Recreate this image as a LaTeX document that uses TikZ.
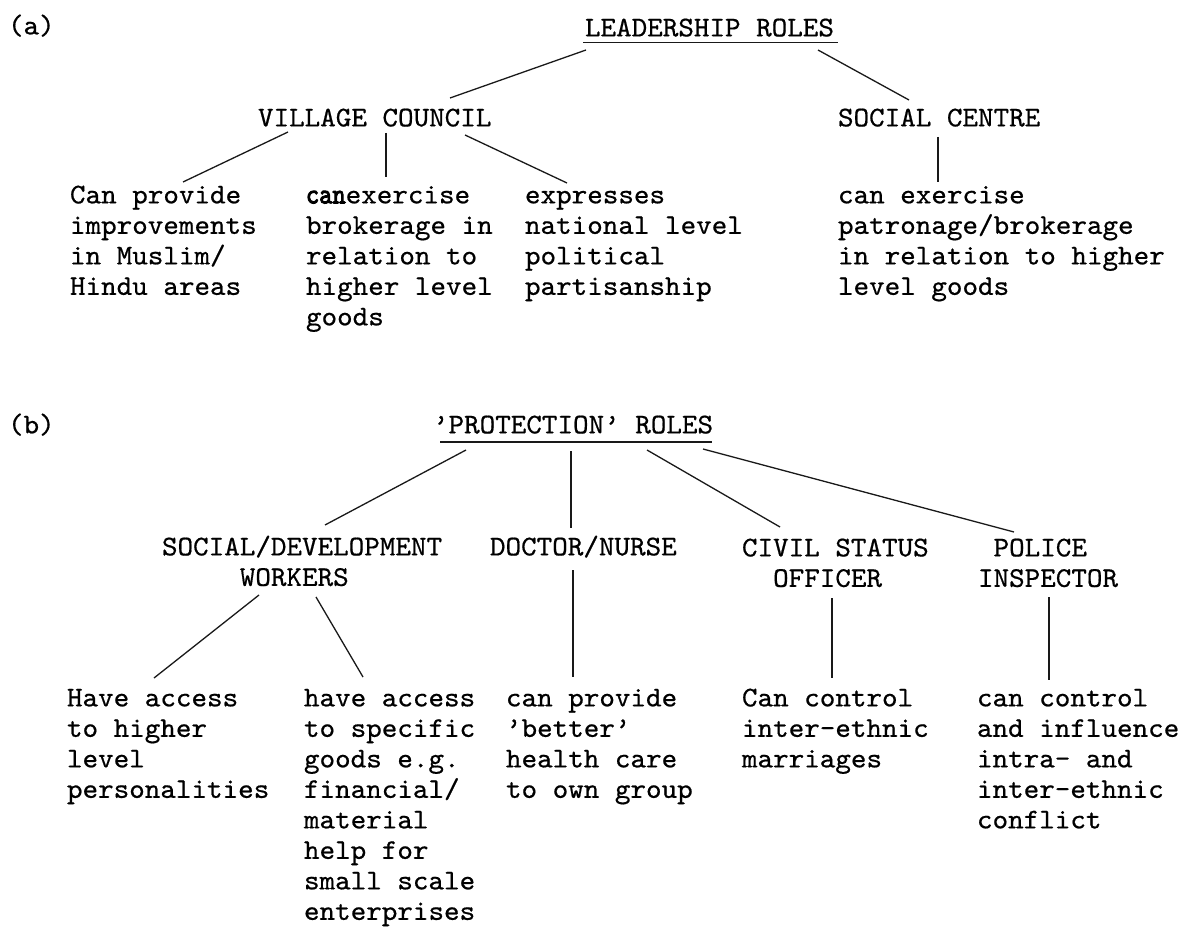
\documentclass[tikz,border=0pt]{standalone}
\usepackage{fontspec}
\usepackage{graphicx}
% typewriter face: Latin Modern Mono, slightly widened and emboldened
\newfontfamily\tw[FakeStretch=1.04,FakeBold=0.6]{lmmono10-regular.otf}
\newfontfamily\twb[FakeStretch=1.04,FakeBold=3.5]{lmmono10-regular.otf}
\tikzset{
  txt/.style={anchor=north west, inner sep=0pt, outer sep=0pt, align=left,
              font=\tw\fontsize{28.5}{30.5}\selectfont},
  link/.style={line width=1.3pt, draw=black!90},
  uline/.style={line width=1.6pt, draw=black!90}
}
\begin{document}
\begin{tikzpicture}[x=1pt,y=-1pt]
\useasboundingbox[fill=white] (0,0) rectangle (1181,928);

% ---------- (a) leadership roles ----------
\node[txt] (a)  at (8,13)    {\strut(a)};
\node[txt] (lr) at (585,15)  {\strut LEADERSHIP ROLES};
\node[txt] (vc) at (258,105) {\strut VILLAGE COUNCIL};
\node[txt] (sc) at (838,105) {\strut SOCIAL CENTRE};
\node[txt] (c1) at (70,182)  {\strut Can provide\\improvements\\in Muslim/\\Hindu areas};
\node[txt] (c2) at (306,182) {\strut\scalebox{0.85}[1]{\twb can}exercise\\brokerage in\\relation to\\higher level\\goods};
\node[txt] (c3) at (525,182) {\strut expresses\\national level\\political\\partisanship};
\node[txt] (c4) at (838,182) {\strut can exercise\\patronage/brokerage\\in relation to higher\\level goods};

\draw[uline] ([shift={(-2,27.5)}]lr.north west) -- ([shift={(253,27.5)}]lr.north west);

\draw[link] ([shift={(1,35)}]lr.north west)    -- ([shift={(192,-7)}]vc.north west);
\draw[link] ([shift={(233,35)}]lr.north west)  -- ([shift={(71,-5)}]sc.north west);
\draw[link] ([shift={(30,27)}]vc.north west)   -- ([shift={(113,0)}]c1.north west);
\draw[link] ([shift={(128,28)}]vc.north west)  -- ([shift={(80,-5)}]c2.north west);
\draw[link] ([shift={(207,30)}]vc.north west)  -- ([shift={(42,1)}]c3.north west);
\draw[link] ([shift={(100,32)}]sc.north west)  -- ([shift={(100,0)}]c4.north west);

% ---------- (b) protection roles ----------
\node[txt] (b)  at (8,412)   {\strut(b)};
\node[txt] (pr) at (433,412) {\strut’PROTECTION’ ROLES};
\node[txt] (sd) at (162,534) {\strut SOCIAL/DEVELOPMENT\\\phantom{XXXXX}WORKERS};
\node[txt] (dn) at (490,534) {\strut DOCTOR/NURSE};
\node[txt] (cs) at (742,535) {\strut CIVIL STATUS\\\phantom{XX}OFFICER};
\node[txt] (pi) at (978,535) {\strut\phantom{X}POLICE\\INSPECTOR};

\node[txt] (h1) at (67,685)  {\strut Have access\\to higher\\level\\personalities};
\node[txt] (h2) at (304,685) {\strut have access\\to specific\\goods e.g.\\financial/\\material\\help for\\small scale\\enterprises};
\node[txt] (h3) at (506,685) {\strut can provide\\’better’\\health care\\to own group};
\node[txt] (h4) at (742,685) {\strut Can control\\inter-ethnic\\marriages};
\node[txt] (h5) at (977,685) {\strut can control\\and influence\\intra- and\\inter-ethnic\\conflict};

\draw[uline] ([shift={(7,30)}]pr.north west) -- ([shift={(279,30)}]pr.north west);

\draw[link] ([shift={(33,38)}]pr.north west)  -- ([shift={(163,-9)}]sd.north west);
\draw[link] ([shift={(138,39)}]pr.north west) -- ([shift={(81,-6)}]dn.north west);
\draw[link] ([shift={(214,38)}]pr.north west) -- ([shift={(38,-8)}]cs.north west);
\draw[link] ([shift={(270,37)}]pr.north west) -- ([shift={(36,-3)}]pi.north west);

\draw[link] ([shift={(97,61)}]sd.north west)  -- ([shift={(87,-7)}]h1.north west);
\draw[link] ([shift={(154,63)}]sd.north west) -- ([shift={(59,-8)}]h2.north west);
\draw[link] ([shift={(83,36)}]dn.north west)  -- ([shift={(67,-8)}]h3.north west);
\draw[link] ([shift={(90,63)}]cs.north west)  -- ([shift={(90,-7)}]h4.north west);
\draw[link] ([shift={(71,62)}]pi.north west)  -- ([shift={(72,-5)}]h5.north west);
\end{tikzpicture}
\end{document}
